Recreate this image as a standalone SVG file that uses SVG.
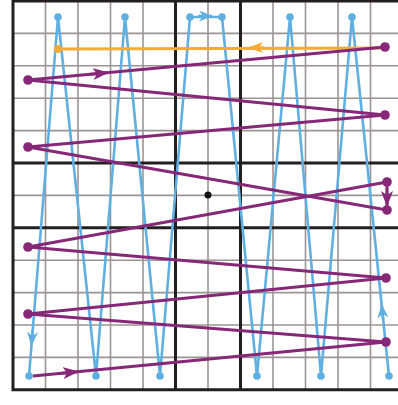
<svg xmlns="http://www.w3.org/2000/svg" width="398" height="405" viewBox="0 0 398 405">
<style>
.thin{stroke:#9c9492;stroke-width:1.6;fill:none}
.thick{stroke:#231f20;stroke-width:3;fill:none}
.blue{stroke:#5fb0e0;stroke-width:2.6;fill:none;stroke-linejoin:round}
.purple{stroke:#862778;stroke-width:2.8;fill:none;stroke-linejoin:round}
.orange{stroke:#f2ab35;stroke-width:2.8;fill:none}
.bdot{fill:#5fb0e0}
.pdot{fill:#862778}
.odot{fill:#f2ab35}
</style>
<defs>
<marker id="ap" markerUnits="userSpaceOnUse" markerWidth="16" markerHeight="12" refX="14" refY="6" orient="auto"><path d="M0,0 L16,6 L0,12 L4,6 z" fill="#862778"/></marker>
<marker id="ab" markerUnits="userSpaceOnUse" markerWidth="14" markerHeight="11" refX="13" refY="5.5" orient="auto"><path d="M0,0 L14,5.5 L0,11 L4,5.5 z" fill="#5fb0e0"/></marker>
<marker id="ao" markerUnits="userSpaceOnUse" markerWidth="15" markerHeight="11" refX="13" refY="5.5" orient="auto"><path d="M0,0 L15,5.5 L0,11 L4,5.5 z" fill="#f2ab35"/></marker>
</defs>
<rect width="398" height="405" fill="#ffffff"/>
<g id="grid">
<path class="thin" d="M45.5 0V390M78 0V390M110.5 0V390M143 0V390M208 0V390M273 0V390M305.5 0V390M338 0V390M370.5 0V390"/>
<path class="thin" d="M13 33.4H398M13 65.8H398M13 98.2H398M13 130.6H398M13 195.4H398M13 260.2H398M13 292.6H398M13 325H398M13 357.4H398"/>
<path class="thick" d="M13 0V391M175.5 0V391M240.5 0V391M11.5 1H398M11.5 163H398M11.5 227.8H398M11.5 389.8H398"/>
</g>
<g id="connectors">
<polyline id="blue-path" class="blue" points="29,376 58,17 96,376 125,17 160,376 190,17 222,17 257,376 290,17 321,376 352,17 389,376"/>
<path class="orange" d="M385,48 L58,49"/>
<polyline id="purple-path" class="purple" points="33,376 386,342 28,314 386,278 28,247 387,182 387,210 28,147 385,115 28,80 385,47"/>
<path class="blue" d="M32.7,330 L31.4,345" marker-end="url(#ab)"/>
<path class="blue" d="M383.2,320 L381.7,305" marker-end="url(#ab)"/>
<path class="blue" d="M198,16 L212,16" marker-end="url(#ab)"/>
<path class="orange" d="M264,47.6 L250,47.7" marker-end="url(#ao)"/>
<path class="purple" d="M90,74.3 L107,72.7" marker-end="url(#ap)"/>
<path class="purple" d="M58,373.6 L77,371.8" marker-end="url(#ap)"/>
<path class="purple" d="M387,188 L387,205" marker-end="url(#ap)"/>
</g>
<g id="blue-points">
<circle class="bdot" cx="58" cy="17" r="3.8"/><circle class="bdot" cx="125" cy="17" r="3.8"/><circle class="bdot" cx="190" cy="17" r="3.8"/><circle class="bdot" cx="222" cy="17" r="3.8"/><circle class="bdot" cx="290" cy="17" r="3.8"/><circle class="bdot" cx="352" cy="17" r="3.8"/>
<circle class="bdot" cx="29" cy="376" r="3.8"/><circle class="bdot" cx="96" cy="376" r="3.8"/><circle class="bdot" cx="160" cy="376" r="3.8"/><circle class="bdot" cx="257" cy="376" r="3.8"/><circle class="bdot" cx="321" cy="376" r="3.8"/><circle class="bdot" cx="389" cy="376" r="3.8"/>
</g>
<g id="orange-point"><circle class="odot" cx="58" cy="49" r="4"/></g>
<g id="purple-points">
<circle class="pdot" cx="28" cy="80" r="4.8"/><circle class="pdot" cx="28" cy="147" r="4.8"/><circle class="pdot" cx="28" cy="247" r="4.8"/><circle class="pdot" cx="28" cy="314" r="4.8"/>
<circle class="pdot" cx="385" cy="47" r="4.8"/><circle class="pdot" cx="385" cy="115" r="4.8"/><circle class="pdot" cx="387" cy="182" r="4.8"/><circle class="pdot" cx="387" cy="210" r="4.8"/><circle class="pdot" cx="386" cy="278" r="4.8"/><circle class="pdot" cx="386" cy="342" r="4.8"/>
</g>
<g id="center"><circle cx="208" cy="195" r="3.5" fill="#111"/></g>
</svg>
